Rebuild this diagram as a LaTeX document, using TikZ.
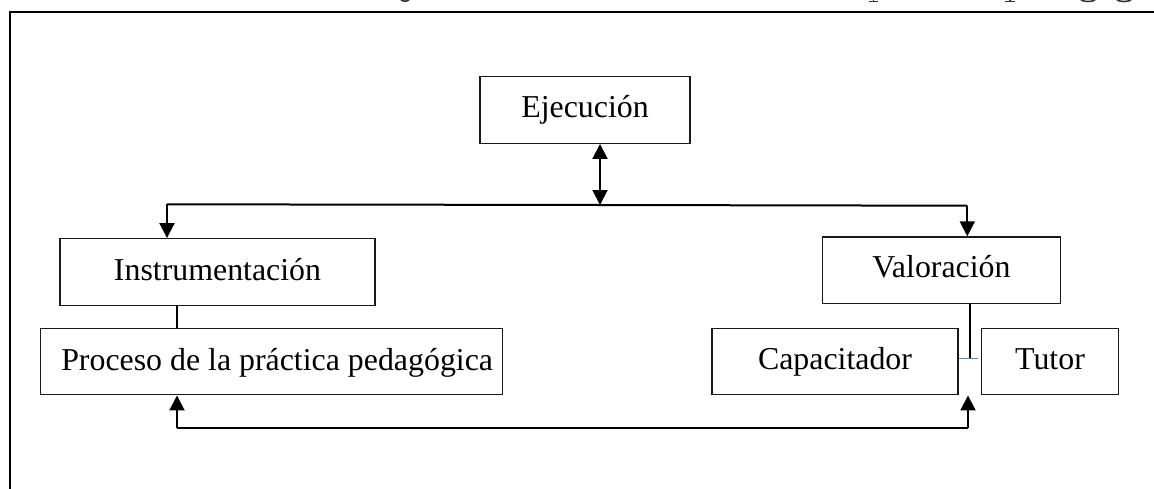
\documentclass[tikz,border=0pt]{standalone}
\usepackage{fontspec}
\setmainfont{Liberation Serif}
\usetikzlibrary{arrows.meta}
\tikzset{x=0.75pt,y=-0.75pt,
 boxn/.style={draw=black!90,line width=0.95pt,inner sep=0pt,anchor=center,minimum height=50pt},
 lbl/.style={inner sep=0pt,font=\fontsize{23.9pt}{28pt}\selectfont,anchor=base},
 conn/.style={draw=black,line width=1.5pt},
 thinconn/.style={draw=black,line width=1.25pt},
 tip/.style={-{Triangle[length=11.25pt,width=11.25pt]}},
 frag/.style={draw=black!80,line width=1.2pt}}
\begin{document}
\begin{tikzpicture}
\useasboundingbox (0,0) rectangle (1154,489);
\fill[white] (0,0) rectangle (1154,489);
\draw[black,line width=1.3pt] (10,489) -- (10,12) -- (1154,12);
% cut-off ink of the line above the frame
\draw[frag] (401,0) .. controls (403,1.5) and (407,1.5) .. (409,0);
\draw[frag] (869,1.5) -- (878,1.5) (873.5,0) -- (873.5,1.5);
\draw[frag] (1005,1.5) -- (1015,1.5) (1010,0) -- (1010,1.5);
\draw[frag] (1081,0) .. controls (1084,2) and (1092,2) .. (1095,0);
\draw[frag] (1117,0) .. controls (1120,2) and (1128,2) .. (1131,0);
\node[boxn,minimum width=157.5pt] (ej) at (585,110) {};
\node[boxn,minimum width=236.25pt] (in) at (217.5,272) {};
\node[boxn,minimum width=178.2pt] (va) at (941.5,270.3) {};
\node[boxn,minimum width=346.5pt] (pr) at (271.3,361.5) {};
\node[boxn,minimum width=184.5pt] (ca) at (835,361.5) {};
\node[boxn,minimum width=102.5pt] (tu) at (1050,361.5) {};
\node[lbl] (ejt) at (585,117.7) {Ejecución};
\node[lbl] (int) at (217.5,280) {Instrumentación};
\node[lbl] (vat) at (941.5,277.7) {Valoración};
\node[lbl,anchor=base west] (prt) at (61,370) {Proceso de la práctica pedagógica};
\node[lbl] (cat) at (835,369.5) {Capacitador};
\node[lbl] (tut) at (1050,369.5) {Tutor};
\coordinate (j) at (600,205);
\coordinate (l) at (167,204.3);
\coordinate (r) at (967.3,205.7);
\coordinate (bl) at (177,428);
\coordinate (br) at (968,428);
\coordinate (v1) at (970.3,358.3);
\draw[conn,{Triangle[length=11.25pt,width=11.25pt]}-{Triangle[length=11.25pt,width=11.25pt]}] (ej.south -| j) -- (j);
\draw[conn] (l) -- (j) -- (r);
\draw[conn,tip] (l) -- (l |- in.north);
\draw[conn,tip] (r) -- (r |- va.north);
\draw[thinconn] (in.south -| bl) -- (pr.north -| bl);
\draw[thinconn] (va.south -| v1) -- (v1);
\draw[color={rgb,255:red,91;green,140;blue,200},line width=1pt] (ca.east |- v1) -- (978.3,358.3);
\draw[conn,tip] (bl) -- (pr.south -| bl);
\draw[conn] (bl) -- (br);
\draw[conn,tip] (br) -- (br |- ca.south);
\end{tikzpicture}
\end{document}
